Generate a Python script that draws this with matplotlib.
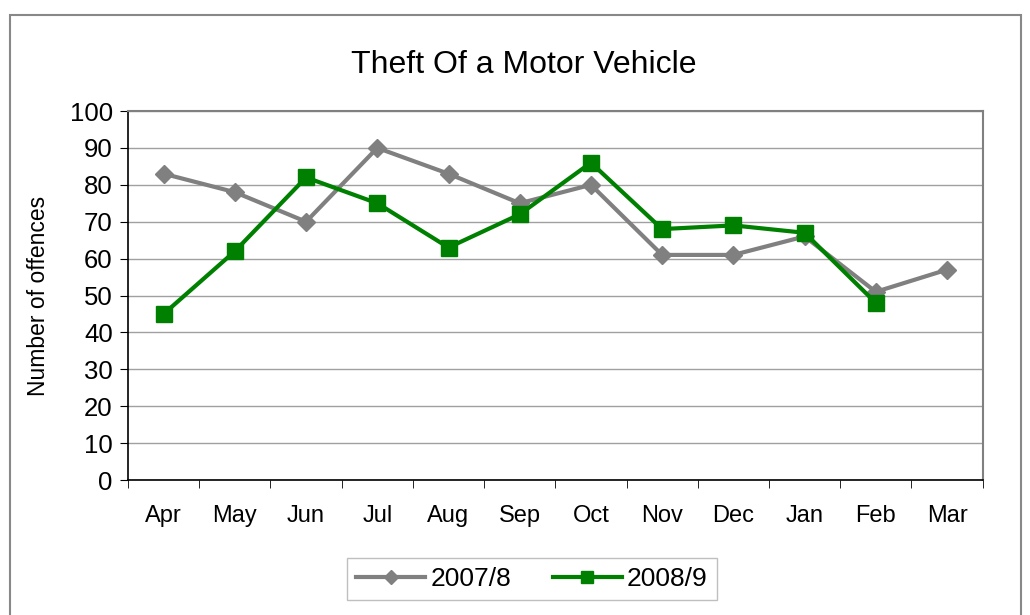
import matplotlib
matplotlib.use("Agg")
import matplotlib.pyplot as plt
from matplotlib.patches import Rectangle

months = ["Apr", "May", "Jun", "Jul", "Aug", "Sep", "Oct", "Nov", "Dec", "Jan", "Feb", "Mar"]
series_2007 = [83, 78, 70, 90, 83, 75, 80, 61, 61, 66, 51, 57]
series_2008 = [45, 62, 82, 75, 63, 72, 86, 68, 69, 67, 48]

plt.rcParams["font.family"] = ["Liberation Sans", "DejaVu Sans"]

fig = plt.figure(figsize=(10.3, 6.15), dpi=100)
ax = fig.add_axes([0.1243, 0.2195, 0.8297, 0.6])

# outer chart border
fig.patches.append(Rectangle((10 / 1030, -0.05), 1011 / 1030, 1 - 15 / 615 + 0.05,
                             transform=fig.transFigure, fill=False,
                             edgecolor="#888888", linewidth=1.5))

x = list(range(len(months)))
ax.plot(x, series_2007, color="#808080", linewidth=3, marker="D", markersize=9,
        label="2007/8", zorder=3)
ax.plot(x[:len(series_2008)], series_2008, color="#008000", linewidth=3, marker="s",
        markersize=11, label="2008/9", zorder=4)

ax.set_xlim(-0.5, len(months) - 0.5)
ax.set_ylim(0, 100)
ax.set_yticks(range(0, 101, 10))
ax.set_xticks(x)
ax.set_xticklabels(months, fontsize=17)
ax.set_xticks([i - 0.5 for i in range(len(months) + 1)], minor=True)
ax.tick_params(axis="x", which="major", length=0, pad=18)
ax.tick_params(axis="x", which="minor", length=6, direction="out", color="black")
ax.tick_params(axis="y", length=6, direction="out", labelsize=18.5, pad=5)

ax.yaxis.grid(True, color="#a0a0a0", linewidth=1)
ax.set_axisbelow(True)
for side in ["top", "right"]:
    ax.spines[side].set_color("#808080")
    ax.spines[side].set_linewidth(1.5)
for side in ["left", "bottom"]:
    ax.spines[side].set_color("black")
    ax.spines[side].set_linewidth(1.2)

ax.set_ylabel("Number of offences", fontsize=16.5, labelpad=14)
fig.text(524 / 1030, 1 - 65 / 615, "Theft Of a Motor Vehicle", fontsize=23,
         ha="center", va="center")

leg = fig.legend(*ax.get_legend_handles_labels(), loc="center",
                 bbox_to_anchor=(532 / 1030, 1 - 579 / 615), ncol=2,
                 fontsize=19, frameon=True, fancybox=False, edgecolor="#b0b0b0",
                 handlelength=2.6, handletextpad=0.2, columnspacing=1.6,
                 borderpad=0.35, markerscale=0.75)
leg.get_frame().set_linewidth(1)

fig.savefig("out.png", dpi=100)
